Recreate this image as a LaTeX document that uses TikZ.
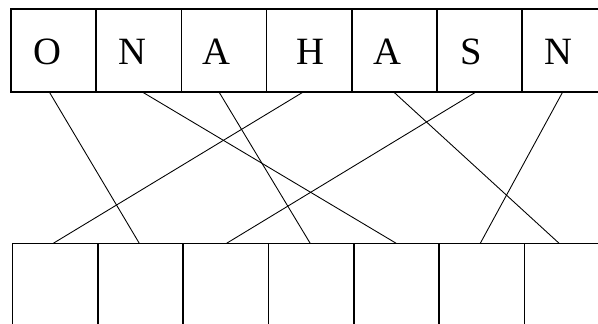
\documentclass[tikz,border=0pt]{standalone}
\usepackage{fontspec}
\setmainfont{Liberation Serif}
\usetikzlibrary{calc}

\tikzset{
  cell/.style={draw, line width=0.8pt, outer sep=0pt, inner sep=0pt,
    minimum width=1.704cm, minimum height=1.66cm, anchor=north west},
  letter/.style={inner sep=0pt, font=\fontsize{22}{26}\selectfont},
  link/.style={line width=0.5pt}
}

\begin{document}
\begin{tikzpicture}[x=0.02cm, y=-0.02cm]
  \useasboundingbox (0,0) rectangle (598,324);
  \clip (0,0) rectangle (598,324);
  % top row with letters
  \foreach \l/\dx [count=\i] in {O/-6.6,N/-6.1,A/-7.7,H/0.8,A/-7.4,S/-8.6,N/-6.8} {
    \node[cell] (t\i) at ({11+(\i-1)*85.2},9) {};
    \node[letter] (l\i) at ($(t\i.center)+(\dx,1)$) {\l};
  }
  % bottom row, empty
  \foreach \i in {1,...,7}
    \node[cell, minimum height=2cm] (b\i) at ({12.7+(\i-1)*85.3},243.3) {};
  % crossing links
  \foreach \s/\e/\ds/\de in {1/2/-4.3/-1.3, 2/5/3.5/-0.3, 3/4/-5/-1, 4/1/-5.9/-2,
                             5/7/-0.7/-8, 6/3/-3.6/0.7, 7/6/-2.1/-1.5}
    \draw[link] ($(t\s.south)+(\ds,0)$) -- ($(b\e.north)+(\de,0)$);
\end{tikzpicture}
\end{document}
